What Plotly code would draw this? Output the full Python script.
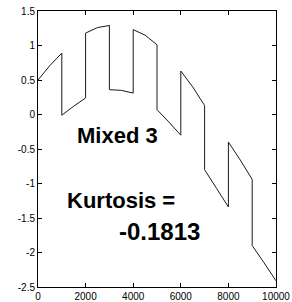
import plotly.graph_objects as go

# sample positions and values (jumps every 1000)
x_vals = [0, 500, 1000,
          1000, 1500, 2000,
          2000, 2500, 3000,
          3000, 3500, 4000,
          4000, 4500, 5000,
          5000, 5500, 6000,
          6000, 6500, 7000,
          7000, 7500, 8000,
          8000, 8500, 9000,
          9000, 9500, 10000]
y_vals = [0.50, 0.71, 0.89,
          -0.01, 0.12, 0.24,
          1.18, 1.26, 1.29,
          0.36, 0.35, 0.31,
          1.23, 1.15, 1.01,
          0.07, -0.11, -0.30,
          0.63, 0.40, 0.13,
          -0.80, -1.07, -1.34,
          -0.40, -0.66, -0.94,
          -1.90, -2.15, -2.41]

x_ticks = [0, 2000, 4000, 6000, 8000, 10000]
y_ticks = [-2.5, -2, -1.5, -1, -0.5, 0, 0.5, 1, 1.5]
y_tick_labels = ["-2.5", "-2", "-1.5", "-1", "-0.5", "0", "0.5", "1", "1.5"]

title_text = "Mixed 3"
kurt_label = "Kurtosis ="
kurt_value = "-0.1813"

fig = go.Figure()
fig.add_trace(go.Scatter(x=x_vals, y=y_vals, mode="lines",
                         line=dict(color="#1a1a1a", width=1),
                         showlegend=False, hoverinfo="skip"))

ann_font = dict(family="Arial, Liberation Sans", size=22, color="black")
fig.add_annotation(x=1560, y=-0.31, xref="x", yref="y", text="<b>" + title_text + "</b>",
                   showarrow=False, xanchor="left", yanchor="middle", font=ann_font)
fig.add_annotation(x=1140, y=-1.25, xref="x", yref="y", text="<b>" + kurt_label + "</b>",
                   showarrow=False, xanchor="left", yanchor="middle", font=ann_font)
fig.add_annotation(x=3300, y=-1.70, xref="x", yref="y", text="<b>" + kurt_value + "</b>",
                   showarrow=False, xanchor="left", yanchor="middle",
                   font=dict(family="Arial, Liberation Sans", size=24, color="black"))

axis_common = dict(showgrid=False, zeroline=False, showline=True, linecolor="black",
                   linewidth=1, mirror="ticks", ticks="inside", ticklen=4,
                   tickcolor="black", tickwidth=1, automargin=False,
                   tickfont=dict(family="Arial, Liberation Sans", size=10, color="black"))

fig.update_xaxes(range=[0, 10000], tickvals=x_ticks,
                 ticktext=[str(v) for v in x_ticks], **axis_common)
fig.update_yaxes(range=[-2.5, 1.5], tickvals=y_ticks, ticktext=y_tick_labels, **axis_common)

fig.update_layout(width=292, height=302,
                  margin=dict(l=38, r=16, t=11, b=15, pad=0),
                  paper_bgcolor="white", plot_bgcolor="white")

# remove the page's default body margin so the figure sits at the window's corner
fig.write_html("out.html", config={"displayModeBar": False},
               post_script="document.body.style.margin='0px';document.body.style.overflow='hidden';")
